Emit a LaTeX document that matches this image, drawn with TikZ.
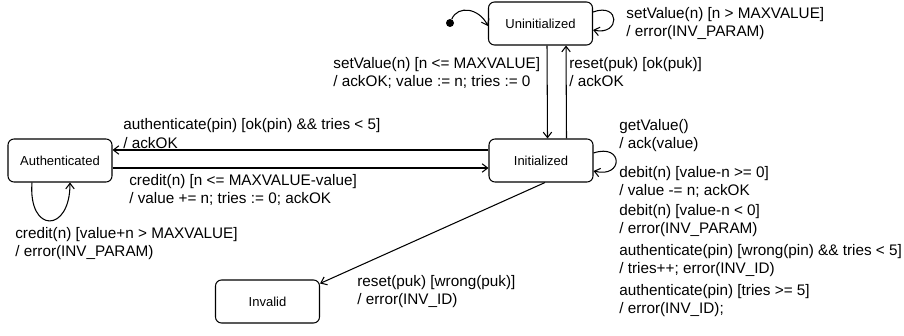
\documentclass[tikz,border=0pt]{standalone}
\usepackage{fontspec}
\setmainfont{Liberation Sans}
\usetikzlibrary{arrows.meta}

\tikzset{
	state/.style={draw, line width=0.6pt, rounded corners=1.2mm, minimum width=2.08cm, minimum height=0.86cm, font=\fontsize{7.4}{9}\selectfont},
	trans/.style={line width=0.6pt, -{Straight Barb[length=1.1mm, width=1.7mm]}},
	lbl/.style={anchor=north west, align=left, inner sep=0pt, font=\fontsize{8.7}{10.3}\selectfont}
}

\begin{document}
\begin{tikzpicture}
		\useasboundingbox (0,0) rectangle (18.08,6.7);

		% states
		\node[state] (uninit) at (10.81,6.23) {Uninitialized};
		\node[state] (init) at (10.82,3.49) {Initialized};
		\node[state] (auth) at (1.20,3.49) {Authenticated};
		\node[state] (invalid) at (5.35,0.67) {Invalid};
		\node[circle, fill, inner sep=0pt, minimum size=1.6mm] (start) at (9.00,6.24) {};

		% transitions
		\draw[trans] (start) .. controls +(0.16,0.36) and +(-0.18,0.36) .. ([yshift=-0.5mm]uninit.west);
		\draw[trans] ([yshift=2.3mm]uninit.east) .. controls +(0.55,0.2) and +(0.55,-0.12) .. ([yshift=-1.3mm]uninit.east);
		\draw[trans] ([xshift=1.3mm]uninit.south) -- ([xshift=1.3mm]init.north);
		\draw[trans] ([xshift=5.1mm]init.north) -- ([xshift=5.1mm]uninit.south);
		\draw[trans] ([yshift=1.5mm]init.east) .. controls +(0.6,0.2) and +(0.6,-0.15) .. ([yshift=-2.1mm]init.east);
		\draw[trans] ([yshift=2.1mm]init.west) -- ([yshift=2.1mm]auth.east);
		\draw[trans] ([yshift=-1.5mm]auth.east) -- ([yshift=-1.5mm]init.west);
		\draw[trans] ([xshift=-5.6mm]auth.south) .. controls +(-0.08,-1.02) and +(0,-1.02) .. ([xshift=2mm]auth.south);
		\draw[trans] ([xshift=0.8mm]init.south) -- ([yshift=-0.8mm]invalid.north east);

		% labels
		\node[lbl] (lblSetErr) at (12.52,6.56) {setValue(n) [n > MAXVALUE]\\/ error(INV\_PARAM)};
		\node[lbl] (lblSetOk) at (6.66,5.56) {setValue(n) [n <= MAXVALUE]\\/ ackOK; value := n; tries := 0};
		\node[lbl] (lblReset) at (11.38,5.56) {reset(puk) [ok(puk)]\\/ ackOK};
		\node[lbl] (lblAuthOk) at (2.46,4.33) {authenticate(pin) [ok(pin) \&\& tries < 5]\\/ ackOK};
		\node[lbl] (lblCredit) at (2.58,3.22) {credit(n) [n <= MAXVALUE-value]\\/ value += n; tries := 0; ackOK};
		\node[lbl] (lblCreditErr) at (0.30,2.16) {credit(n) [value+n > MAXVALUE]\\/ error(INV\_PARAM)};
		\node[lbl] (lblResetWrong) at (7.14,1.20) {reset(puk) [wrong(puk)]\\/ error(INV\_ID)};

		\node[lbl] (lblGet) at (12.38,4.32) {getValue()\\/ ack(value)};
		\node[lbl] (lblDebitOk) at (12.38,3.38) {debit(n) [value-n >= 0]\\/ value -= n; ackOK};
		\node[lbl] (lblDebitErr) at (12.38,2.62) {debit(n) [value-n < 0]\\/ error(INV\_PARAM)};
		\node[lbl] (lblAuthWrong) at (12.38,1.82) {authenticate(pin) [wrong(pin) \&\& tries < 5]\\/ tries++; error(INV\_ID)};
		\node[lbl] (lblAuthLock) at (12.38,1.02) {authenticate(pin) [tries >= 5]\\/ error(INV\_ID);};

	\end{tikzpicture}
\end{document}
